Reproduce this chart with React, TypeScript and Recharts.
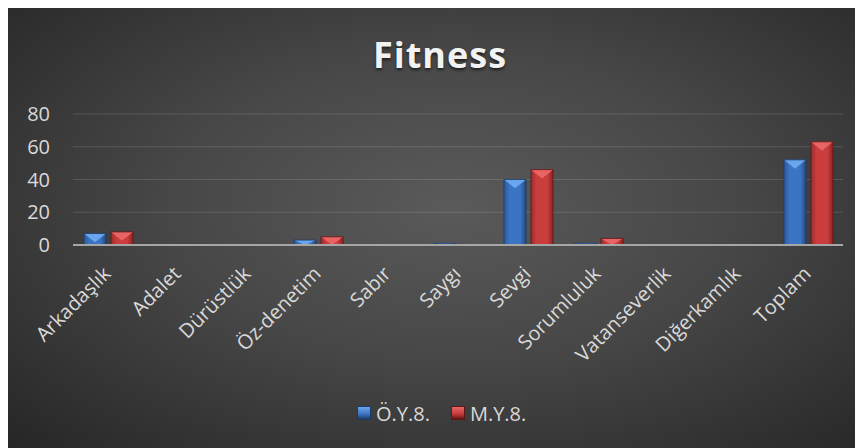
import { Bar, BarChart, CartesianGrid, Legend, XAxis, YAxis } from "recharts";

const CATEGORIES = [
  "Arkadaşlık",
  "Adalet",
  "Dürüstlük",
  "Öz-denetim",
  "Sabır",
  "Saygı",
  "Sevgi",
  "Sorumluluk",
  "Vatanseverlik",
  "Diğerkamlık",
  "Toplam",
];
const OY8 = [7, 0, 0, 3, 0, 1, 40, 1, 0, 0, 52];
const MY8 = [8, 0, 0, 5, 0, 0, 46, 4, 0, 0, 63];
const Y_TICKS = [0, 20, 40, 60, 80];

const SERIES = [
  { key: "oy", name: "Ö.Y.8.", body: "blueBody", top: "#6aa6ee", edge: "#1d3a66", swatch: "#3b73c0" },
  { key: "my", name: "M.Y.8.", body: "redBody", top: "#e96565", edge: "#5e1616", swatch: "#c43a3a" },
];

const data = CATEGORIES.map((name, i) => ({ name, oy: OY8[i], my: MY8[i] }));

const W = 855;
const H = 440;
const FONT = "'Open Sans', sans-serif";

function makeBevel(s: (typeof SERIES)[number]) {
  return (props: any) => {
    const { x, y, width: w, height: h } = props;
    if (!h || h <= 0) return <g />;
    const d = Math.min(w * 0.4, h);
    return (
      <g>
        <rect x={x} y={y} width={w} height={h} fill={`url(#${s.body})`} />
        <polygon points={`${x},${y} ${x + w},${y} ${x + w / 2},${y + d}`} fill={s.top} />
        <rect x={x} y={y} width={w} height={h} fill="none" stroke={s.edge} strokeWidth={1} strokeOpacity={0.8} />
      </g>
    );
  };
}

function AngledTick({ x, y, payload }: any) {
  return (
    <g transform={`translate(${x + 4},${y + 22})`}>
      <text textAnchor="end" transform="rotate(-45)" fill="#d9d9d9" fontSize={20} fontFamily={FONT}>
        {payload.value}
      </text>
    </g>
  );
}

function LegendContent() {
  return (
    <div
      style={{
        height: 30,
        display: "flex",
        alignItems: "center",
        paddingLeft: 349,
        fontFamily: FONT,
        fontSize: 20,
        color: "#d9d9d9",
      }}
    >
      {SERIES.map((s) => (
        <div key={s.key} style={{ display: "flex", alignItems: "center", marginRight: 21 }}>
          <span
            style={{
              width: 14,
              height: 14,
              marginRight: 5,
              background: `linear-gradient(180deg, ${s.top} 0%, ${s.swatch} 60%, ${s.edge} 100%)`,
              border: `1px solid ${s.edge}`,
              boxSizing: "border-box",
            }}
          />
          <span>{s.name}</span>
        </div>
      ))}
    </div>
  );
}

export default function App() {
  return (
    <div
      style={{
        position: "relative",
        width: W,
        height: H,
        background: "radial-gradient(ellipse farthest-corner at 52% 45%, #5a5a5a 0%, #474747 45%, #262626 100%)",
      }}
    >
      <style>{`html,body{overflow:hidden}`}</style>
      <div
        style={{
          position: "absolute",
          top: 22,
          left: 0,
          width: W,
          paddingLeft: 9,
          boxSizing: "border-box",
          textAlign: "center",
          fontFamily: FONT,
          fontWeight: 700,
          fontSize: 36,
          letterSpacing: 1,
          color: "#f2f2f2",
          textShadow: "0 2px 3px rgba(0,0,0,0.6)",
        }}
      >
        Fitness
      </div>
      <BarChart
        width={W}
        height={H}
        data={data}
        margin={{ top: 106, right: 20, left: 0, bottom: 20 }}
        barSize={22}
        barGap={5}
      >
        <defs>
          <linearGradient id="blueBody" x1="0" y1="0" x2="1" y2="0">
            <stop offset="0%" stopColor="#2c5a9c" />
            <stop offset="25%" stopColor="#3b74c2" />
            <stop offset="75%" stopColor="#3b74c2" />
            <stop offset="100%" stopColor="#24497f" />
          </linearGradient>
          <linearGradient id="redBody" x1="0" y1="0" x2="1" y2="0">
            <stop offset="0%" stopColor="#9e2c2c" />
            <stop offset="25%" stopColor="#c93d3d" />
            <stop offset="75%" stopColor="#c93d3d" />
            <stop offset="100%" stopColor="#8a2323" />
          </linearGradient>
        </defs>
        <CartesianGrid vertical={false} stroke="rgba(255,255,255,0.13)" />
        <XAxis
          dataKey="name"
          interval={0}
          height={153}
          tickLine={false}
          axisLine={{ stroke: "#a6a6a6", strokeWidth: 2 }}
          tick={<AngledTick />}
        />
        <YAxis
          domain={[0, 80]}
          ticks={Y_TICKS}
          width={65}
          axisLine={false}
          tickLine={false}
          tickMargin={17}
          tick={{ fill: "#d9d9d9", fontSize: 20, fontFamily: FONT }}
        />
        <Legend
          verticalAlign="bottom"
          wrapperStyle={{ left: 0, width: W }}
          content={<LegendContent />}
        />
        {SERIES.map((s) => (
          <Bar key={s.key} dataKey={s.key} name={s.name} shape={makeBevel(s)} isAnimationActive={false} />
        ))}
      </BarChart>
    </div>
  );
}
